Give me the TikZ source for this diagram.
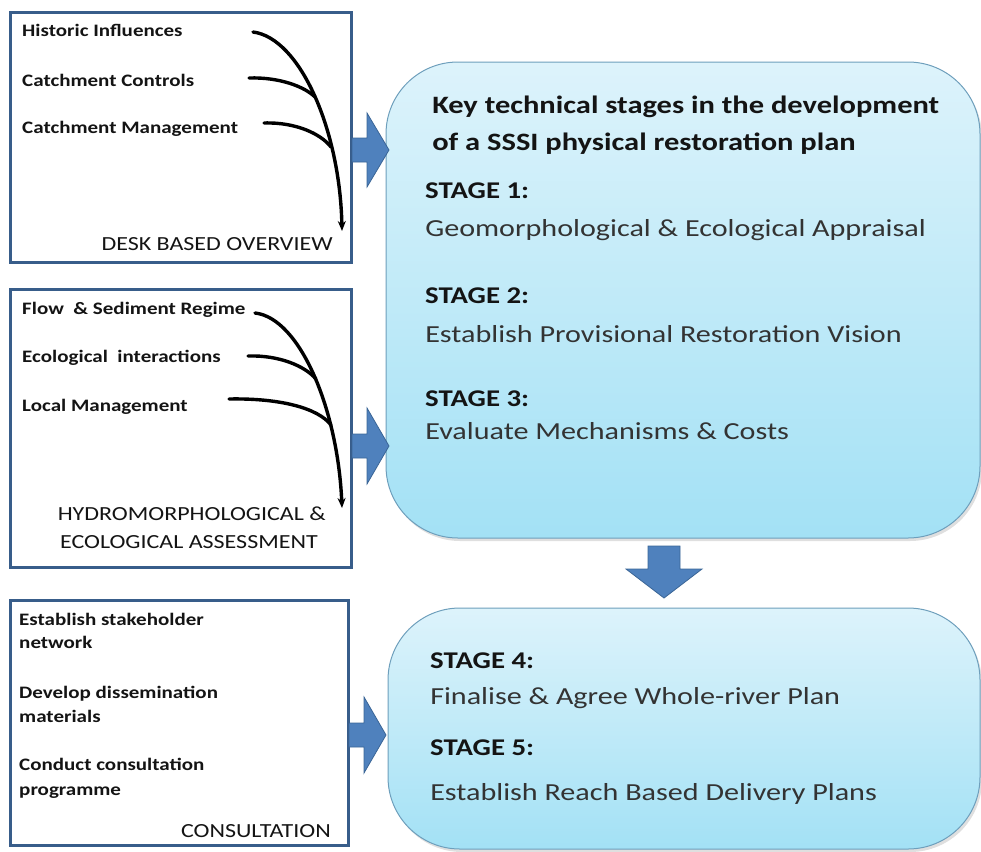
\documentclass[tikz,border=0pt]{standalone}
\usepackage{fontspec}
\setmainfont{Carlito}
\usetikzlibrary{arrows.meta,shadows}
\definecolor{frameblue}{HTML}{385D8A}
\definecolor{arrowblue}{HTML}{4F81BD}
\definecolor{arrowline}{HTML}{3A6596}
\definecolor{paneltop}{HTML}{DDF3FB}
\definecolor{panelbottom}{HTML}{A3E1F5}
\definecolor{panelline}{HTML}{6E9FBC}
\definecolor{inktext}{HTML}{141414}
\definecolor{stageink}{HTML}{333333}
\tikzset{
  framebox/.style={draw=frameblue, line width=3pt, fill=white},
  panel/.style={draw=panelline, line width=1pt, rounded corners=72pt,
    top color=paneltop, bottom color=panelbottom,
    drop shadow={opacity=0.25, shadow xshift=2pt, shadow yshift=-3pt}},
  blockarrow/.style={fill=arrowblue, draw=arrowline, line width=0.8pt, line join=miter},
  wide/.style={xscale=1.2},
  item/.style={wide, anchor=base west, inner sep=0pt, text=inktext,
    font=\bfseries\fontsize{17.5}{21}\selectfont},
  boxtitle/.style={wide, anchor=base east, inner sep=0pt, text=inktext,
    font=\fontsize{20}{24}\selectfont},
  paneltitle/.style={xscale=1.22, anchor=base west, inner sep=0pt, text=inktext,
    font=\bfseries\fontsize{25}{30}\selectfont},
  stagehead/.style={wide, anchor=base west, inner sep=0pt, text=inktext,
    font=\bfseries\fontsize{24}{29}\selectfont},
  stagetext/.style={xscale=1.23, anchor=base west, inner sep=0pt, text=stageink,
    font=\fontsize{24.5}{29}\selectfont},
  feed/.style={draw=black, line width=3.4pt, line cap=round},
  feedmain/.style={feed, -{Stealth[length=10pt,width=8pt]}}
}
\begin{document}
\begin{tikzpicture}[x=1pt,y=-1pt]
\useasboundingbox (0,0) rectangle (981,851);

% ---- left-hand input boxes ----
\draw[framebox] (10,13) rectangle (351,262);
\draw[framebox] (10,289) rectangle (351,567);
\draw[framebox] (10,600) rectangle (348,845);

% ---- stage panels ----
\path[panel] (386,62) rectangle (980,538);
\path[panel] (388,608) rectangle (980,849);

% ---- block arrows into the panels ----
\draw[blockarrow] (352,138) -- (367,138) -- (367,113) -- (389,150)
  -- (367,187) -- (367,162) -- (352,162) -- cycle;
\draw[blockarrow] (352,434) -- (367,434) -- (367,408) -- (389,446)
  -- (367,484) -- (367,458) -- (352,458) -- cycle;
\draw[blockarrow] (349,723) -- (364,723) -- (364,697) -- (386,735)
  -- (364,773) -- (364,747) -- (349,747) -- cycle;
\draw[blockarrow] (648,546) -- (680,546) -- (680,569) -- (702,569)
  -- (664,598) -- (626,569) -- (648,569) -- cycle;

% ---- desk based overview ----
\node[item] (hist) at (22,37) {Historic Influences};
\node[item] (ctrl) at (22,86) {Catchment Controls};
\node[item] (cmgt) at (22,133) {Catchment Management};
\node[boxtitle] (desk) at (333,250) {DESK BASED OVERVIEW};
\coordinate (h0) at (253,32);
\coordinate (c0) at (249,78);
\coordinate (m0) at (264,123);
\coordinate (hj) at (315,97);
\coordinate (mj) at (331,147);
\draw[feedmain] (h0) .. controls (300,38) and (340,130) .. (342,231);
\draw[feed] (c0) .. controls (280,77) and (305,87) .. (hj);
\draw[feed] (m0) .. controls (296,122) and (321,134) .. (mj);

% ---- hydromorphological & ecological assessment ----
\node[item] (flow) at (22,314) {Flow \ \& Sediment Regime};
\node[item] (ecol) at (22,362) {Ecological \ interactions};
\node[item] (locm) at (22,411) {Local Management};
\node[boxtitle] (hyd1) at (326,520) {HYDROMORPHOLOGICAL \&};
\node[boxtitle] (hyd2) at (318,548) {ECOLOGICAL ASSESSMENT};
\coordinate (f0) at (255,313);
\coordinate (e0) at (248,356);
\coordinate (l0) at (229,399);
\coordinate (ej) at (316,379);
\coordinate (lj) at (331,425);
\draw[feedmain] (f0) .. controls (300,318) and (338,410) .. (342,508);
\draw[feed] (e0) .. controls (279,355) and (305,366) .. (ej);
\draw[feed] (l0) .. controls (280,398) and (318,408) .. (lj);

% ---- consultation ----
\node[item] (est1) at (19,625) {Establish stakeholder};
\node[item] (est2) at (19,648) {network};
\node[item] (dev1) at (19,698) {Develop dissemination};
\node[item] (dev2) at (19,722) {materials};
\node[item] (con1) at (19,770) {Conduct consultation};
\node[item] (con2) at (19,795) {programme};
\node[boxtitle] (cons) at (331,837) {CONSULTATION};

% ---- stages 1 to 3 ----
\node[paneltitle] (key1) at (432,113) {Key technical stages in the development};
\node[paneltitle] (key2) at (432,150) {of a SSSI physical restoration plan};
\node[stagehead] (s1h) at (425,198) {STAGE 1:};
\node[stagetext] (s1t) at (425,236) {Geomorphological \& Ecological Appraisal};
\node[stagehead] (s2h) at (425,303) {STAGE 2:};
\node[stagetext] (s2t) at (425,342) {Establish Provisional Restoration Vision};
\node[stagehead] (s3h) at (425,406) {STAGE 3:};
\node[stagetext] (s3t) at (425,439) {Evaluate Mechanisms \& Costs};

% ---- stages 4 and 5 ----
\node[stagehead] (s4h) at (430,668) {STAGE 4:};
\node[stagetext] (s4t) at (430,704) {Finalise \& Agree Whole-river Plan};
\node[stagehead] (s5h) at (430,755) {STAGE 5:};
\node[stagetext] (s5t) at (430,800) {Establish Reach Based Delivery Plans};
\end{tikzpicture}
\end{document}
